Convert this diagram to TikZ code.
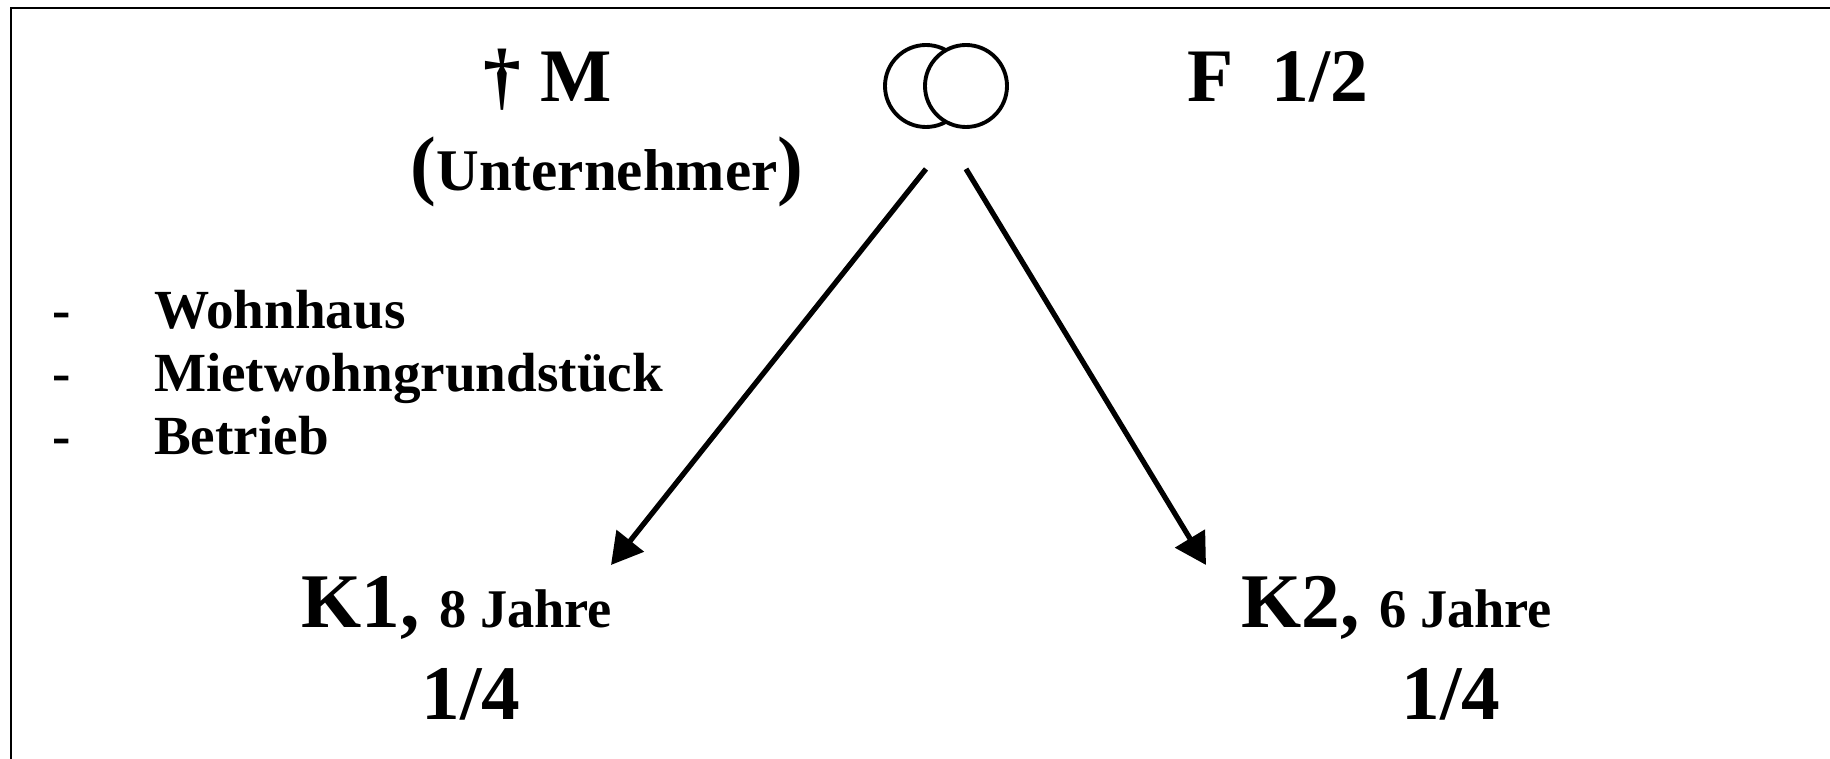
\documentclass[tikz,border=0pt]{standalone}
\usepackage{fontspec}
\setmainfont{Liberation Serif}
\usepackage{tikz}
\usetikzlibrary{arrows.meta}
\newcommand{\namesize}{\fontsize{21.5}{25}\selectfont}
\newcommand{\heirsize}{\fontsize{22}{26}\selectfont}
\newcommand{\agesize}{\fontsize{15.5}{18}\selectfont}
\newcommand{\jobsize}{\fontsize{16.8}{20}\selectfont}
\newcommand{\listsize}{\fontsize{15.7}{17.9}\selectfont}

\begin{document}
\begin{tikzpicture}[x=0.1mm, y=-0.1mm,
  every node/.style={inner sep=0pt, anchor=base west},
  ring/.style={circle, draw, line width=1.1pt, minimum size=8.2mm, inner sep=0pt, anchor=center},
  heir/.style={line width=1.5pt, -{Triangle[length=3.1mm, width=3.4mm]}}]
\useasboundingbox (0,0) rectangle (1830,759);
\draw[line width=0.7pt] (1830,8) -- (11,8) -- (11,759);

% Erblasser und Ehefrau
\node (dead) [font=\bfseries\namesize] at (483,102) {† M};
\node (job) [font=\bfseries\jobsize] at (410,191) {{\heirsize(}Unternehmer{\heirsize)}};
\node (wife) [font=\bfseries\namesize] at (1187,102) {F\ \ 1/2};
\node (ringL) [ring] at (926,86) {};
\node (ringR) [ring, fill=white] at (966,86) {};

% Nachlass
\node (estate) [font=\bfseries\listsize] at (52,329) {\begin{tabular}[t]{@{}l@{\hspace{8.3mm}}l@{}}
 - & Wohnhaus\\
 - & Mietwohngrundstück\\
 - & Betrieb
\end{tabular}};

% Kinder
\node (kid1) [font=\bfseries] at (301,628) {{\heirsize K1, }{\agesize 8 Jahre}};
\node (part1) [font=\bfseries\heirsize] at (421,720) {1/4};
\node (kid2) [font=\bfseries] at (1241,628) {{\heirsize K2, }{\agesize 6 Jahre}};
\node (part2) [font=\bfseries\heirsize] at (1401,720) {1/4};

\coordinate (fromL) at ([yshift=-4mm]ringL.south);
\coordinate (fromR) at ([yshift=-4mm]ringR.south);
\coordinate (toK1) at (611,565);
\coordinate (toK2) at (1206,565);
\draw[heir] (fromL) -- (toK1);
\draw[heir] (fromR) -- (toK2);
\end{tikzpicture}
\end{document}
